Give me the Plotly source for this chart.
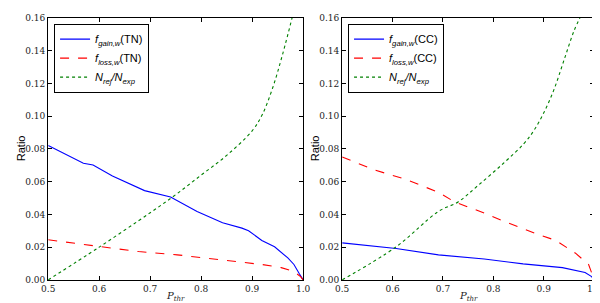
import plotly.graph_objects as go

# ---- data ----
p_gain_tn = [0.50, 0.569, 0.588, 0.626, 0.689, 0.740, 0.792, 0.842, 0.880, 0.893, 0.919, 0.944, 0.970, 0.982, 0.992, 1.0]
gain_tn   = [0.082, 0.0712, 0.0702, 0.0634, 0.0545, 0.0506, 0.0418, 0.0349, 0.0316, 0.0300, 0.0241, 0.0202, 0.0134, 0.0094, 0.004, 0.0]

p_loss_tn = [0.50, 0.60, 0.677, 0.753, 0.791, 0.881, 0.919, 0.957, 0.982, 0.995, 1.0]
loss_tn   = [0.0245, 0.0206, 0.0173, 0.0153, 0.0139, 0.0104, 0.0094, 0.0075, 0.0051, 0.002, 0.0]

p_rej_tn = [0.50, 0.60, 0.70, 0.75, 0.80, 0.85, 0.90, 0.92, 0.94, 0.96, 0.98]
rej_tn   = [0.0, 0.020, 0.041, 0.052, 0.064, 0.076, 0.091, 0.101, 0.117, 0.138, 0.162]

p_gain_cc = [0.50, 0.607, 0.691, 0.782, 0.859, 0.937, 0.982, 0.995, 1.0]
gain_cc   = [0.0226, 0.0192, 0.0153, 0.0128, 0.0098, 0.0075, 0.0045, 0.002, 0.0]

p_loss_cc = [0.50, 0.562, 0.626, 0.691, 0.723, 0.782, 0.820, 0.885, 0.924, 0.963, 0.989, 0.995, 1.0]
loss_cc   = [0.0751, 0.0673, 0.0614, 0.0535, 0.0476, 0.0408, 0.0359, 0.0281, 0.0241, 0.0163, 0.0094, 0.0035, 0.0]

p_rej_cc = [0.50, 0.607, 0.691, 0.730, 0.769, 0.820, 0.860, 0.88, 0.90, 0.92, 0.94, 0.96, 0.975]
rej_cc   = [0.0, 0.0202, 0.0418, 0.0476, 0.0575, 0.0712, 0.083, 0.091, 0.102, 0.116, 0.134, 0.152, 0.162]

x_ticks = [0.5, 0.6, 0.7, 0.8, 0.9, 1.0]
x_ticklabels = ["0.5", "0.6", "0.7", "0.8", "0.9", "1.0"]
y_ticks = [0.00, 0.02, 0.04, 0.06, 0.08, 0.10, 0.12, 0.14, 0.16]
y_ticklabels = ["0.00", "0.02", "0.04", "0.06", "0.08", "0.10", "0.12", "0.14", "0.16"]

BLUE, RED, GREEN = "#0000ff", "#ff0000", "#008000"
SANS = "Liberation Sans"
SERIF = "DejaVu Serif"

def lbl(sub, tag):
    return f"<i>f</i><sub><i>{sub}</i></sub>({tag})"

rej_lbl = "<i>N</i><sub><i>rej</i></sub><i>/N</i><sub><i>exp</i></sub>"

fig = go.Figure()
fig.add_trace(go.Scatter(x=p_gain_tn, y=gain_tn, mode="lines", line=dict(color=BLUE, width=1.1),
                         name=lbl("gain,w", "TN"), xaxis="x", yaxis="y", legend="legend"))
fig.add_trace(go.Scatter(x=p_loss_tn, y=loss_tn, mode="lines", line=dict(color=RED, width=1.1, dash="dash"),
                         name=lbl("loss,w", "TN"), xaxis="x", yaxis="y", legend="legend"))
fig.add_trace(go.Scatter(x=p_rej_tn, y=rej_tn, mode="lines", line=dict(color=GREEN, width=1.1, dash="dot", shape="spline"),
                         name=rej_lbl, xaxis="x", yaxis="y", legend="legend"))

fig.add_trace(go.Scatter(x=p_gain_cc, y=gain_cc, mode="lines", line=dict(color=BLUE, width=1.1),
                         name=lbl("gain,w", "CC"), xaxis="x2", yaxis="y2", legend="legend2"))
fig.add_trace(go.Scatter(x=p_loss_cc, y=loss_cc, mode="lines", line=dict(color=RED, width=1.1, dash="dash"),
                         name=lbl("loss,w", "CC"), xaxis="x2", yaxis="y2", legend="legend2"))
fig.add_trace(go.Scatter(x=p_rej_cc, y=rej_cc, mode="lines", line=dict(color=GREEN, width=1.1, dash="dot", shape="spline"),
                         name=rej_lbl, xaxis="x2", yaxis="y2", legend="legend2"))

ydom = [27 / 303, 298 / 303]
xd1 = [34 / 600, 295 / 600]
xd2 = [335 / 600, 593 / 600]

tickfont = dict(family=SERIF, size=9, color="#222")
common_x = dict(range=[0.5, 1.0], tickvals=x_ticks, ticktext=x_ticklabels, ticks="inside", ticklen=4,
                showline=True, linecolor="black", linewidth=1.2, showgrid=False, zeroline=False,
                tickfont=tickfont, mirror="ticks", tickcolor="black")
common_y = dict(range=[0, 0.16], tickvals=y_ticks, ticktext=y_ticklabels, ticks="inside", ticklen=4,
                showline=True, linecolor="black", linewidth=1.2, showgrid=False, zeroline=False,
                tickfont=tickfont, tickcolor="black", mirror="ticks")

leg_common = dict(bgcolor="white", bordercolor="black", borderwidth=1,
                  font=dict(family=SANS, size=11, color="black"), xanchor="left", yanchor="top",
                  tracegroupgap=0, itemwidth=30)

fig.update_layout(
    width=600, height=303, margin=dict(l=0, r=0, t=0, b=0),
    plot_bgcolor="white", paper_bgcolor="white", showlegend=True,
    xaxis=dict(domain=xd1, anchor="y", **common_x),
    yaxis=dict(domain=ydom, anchor="x", **common_y),
    xaxis2=dict(domain=xd2, anchor="y2", **common_x),
    yaxis2=dict(domain=ydom, anchor="x2", **common_y),
    legend=dict(x=40 / 600, y=1 - 11 / 303, **leg_common),
    legend2=dict(x=341 / 600, y=1 - 11 / 303, **leg_common),
)

for xr in ("x", "x2"):
    fig.add_annotation(text="<i>P</i><sub><i>thr</i></sub>", xref=xr, x=0.75, yref="paper",
                       y=1 - 293 / 303, yanchor="middle", showarrow=False,
                       font=dict(family=SERIF, size=10, color="#222"))

for xpix in (7, 308):
    fig.add_annotation(text="Ratio", xref="paper", x=xpix / 600, yref="paper", y=1 - 140 / 303,
                       textangle=-90, showarrow=False, xanchor="center", yanchor="middle",
                       font=dict(family=SANS, size=11, color="black"))

fig.write_html("out.html")
